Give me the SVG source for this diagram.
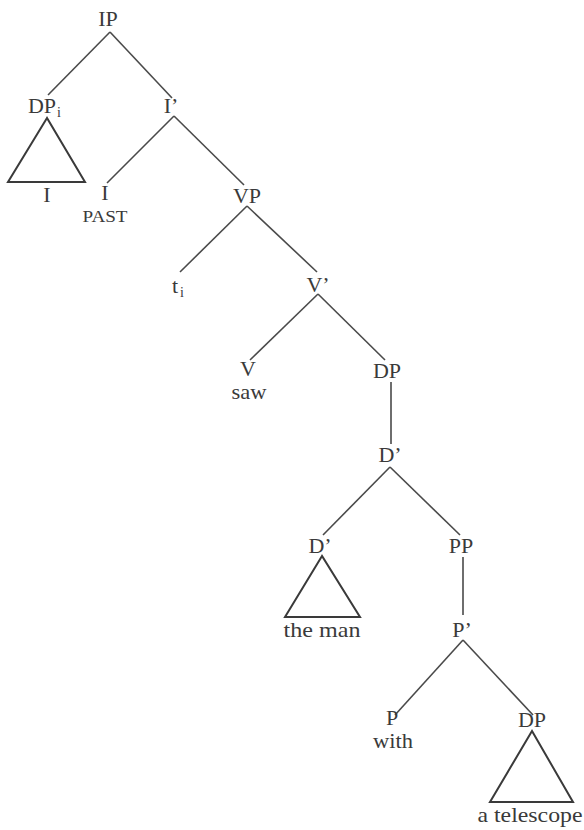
<svg xmlns="http://www.w3.org/2000/svg" width="584" height="830" viewBox="0 0 584 830">
<style>
text{font-family:"Liberation Serif","Times New Roman",serif;font-size:22px;fill:#3a3a3a;text-anchor:middle}
.sub{font-size:14px;text-anchor:start}
.small{font-size:16px}
.ln{stroke:#4a4a4a;stroke-width:1.6;fill:none}
.tri{stroke:#3a3a3a;stroke-width:2;fill:none}
</style>
<rect width="584" height="830" fill="#fff"/>
<g id="connectors">
<line class="ln" x1="110" y1="32" x2="48" y2="95"/>
<line class="ln" x1="110" y1="32" x2="172" y2="98"/>
<line class="ln" x1="174" y1="116" x2="107" y2="183"/>
<line class="ln" x1="174" y1="116" x2="244" y2="185"/>
<line class="ln" x1="247" y1="206" x2="180" y2="272"/>
<line class="ln" x1="247" y1="206" x2="317" y2="272"/>
<line class="ln" x1="318" y1="294" x2="250" y2="360"/>
<line class="ln" x1="318" y1="294" x2="385" y2="360"/>
<line class="ln" x1="391" y1="382" x2="391" y2="444"/>
<line class="ln" x1="390" y1="467" x2="323" y2="535"/>
<line class="ln" x1="390" y1="467" x2="460" y2="535"/>
<line class="ln" x1="463" y1="557" x2="463" y2="615"/>
<line class="ln" x1="463" y1="640" x2="395" y2="715"/>
<line class="ln" x1="463" y1="640" x2="533" y2="715"/>
</g>
<g id="IP"><text x="108" y="26">IP</text></g>
<g id="DPi"><text x="42" y="113">DP</text><text class="sub" x="57" y="117">i</text>
<polygon class="tri" points="47,118 8,182 85,182"/>
<text x="47" y="202">I</text></g>
<g id="Ibar"><text x="171" y="113">I’</text></g>
<g id="I"><text x="105" y="200">I</text><text class="small" x="105" y="222" textLength="45" lengthAdjust="spacingAndGlyphs">PAST</text></g>
<g id="VP"><text x="247" y="203">VP</text></g>
<g id="ti"><text x="175" y="293">t</text><text class="sub" x="180" y="297">i</text></g>
<g id="Vbar"><text x="318" y="292">V’</text></g>
<g id="V"><text x="248" y="376">V</text><text x="249" y="399" textLength="35" lengthAdjust="spacingAndGlyphs">saw</text></g>
<g id="DP1"><text x="387" y="378">DP</text></g>
<g id="Dbar1"><text x="390" y="462">D’</text></g>
<g id="Dbar2"><text x="320" y="553">D’</text>
<polygon class="tri" points="322,556 285,617 360,617"/>
<text x="322" y="637" textLength="77" lengthAdjust="spacingAndGlyphs">the man</text></g>
<g id="PP"><text x="461" y="553">PP</text></g>
<g id="Pbar"><text x="462" y="637">P’</text></g>
<g id="P"><text x="392" y="725">P</text><text x="393" y="748" textLength="40" lengthAdjust="spacingAndGlyphs">with</text></g>
<g id="DP2"><text x="532" y="727">DP</text>
<polygon class="tri" points="532,731 490,802 573,802"/>
<text x="530" y="822" textLength="105" lengthAdjust="spacingAndGlyphs">a telescope</text></g>
</svg>
